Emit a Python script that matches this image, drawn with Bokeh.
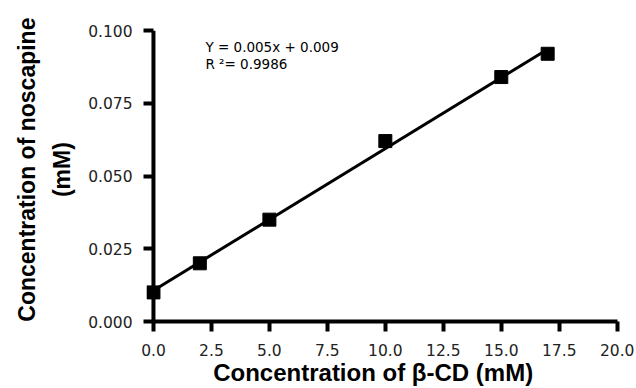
import numpy as np
from bokeh.plotting import figure
from bokeh.models import Range1d, Label, FixedTicker, NumeralTickFormatter, Span
from bokeh.embed import file_html
from bokeh.resources import INLINE

# data
beta_cd = [0, 2, 5, 10, 15, 17]
noscapine = [0.010, 0.020, 0.035, 0.062, 0.084, 0.092]
x_ticks = [0, 2.5, 5, 7.5, 10, 12.5, 15, 17.5, 20]
y_ticks = [0, 0.025, 0.05, 0.075, 0.1]
eq_line1 = "Y = 0.005x + 0.009"
eq_line2 = "R \u00b2= 0.9986"
x_title = "Concentration of \u03b2-CD (mM)"
y_title = "Concentration of noscapine\n(mM)"

p = figure(width=636, height=388, output_backend="svg", toolbar_location=None,
           x_range=Range1d(-0.3, 20.4), y_range=Range1d(0, 0.1),
           min_border_left=146, min_border_right=10, min_border_top=30, min_border_bottom=67)
p.outline_line_color = None
p.xgrid.visible = False
p.ygrid.visible = False
p.background_fill_color = "white"

# trend line (least squares through the points)
slope, intercept = np.polyfit(beta_cd, noscapine, 1)
xs = [min(beta_cd), max(beta_cd)]
p.line(xs, [slope * v + intercept for v in xs], line_color="black", line_width=3)
p.scatter(beta_cd, noscapine, marker="square", size=13, fill_color="black", line_color="black")

for ax in (p.xaxis[0], p.yaxis[0]):
    ax.axis_line_width = 4
    ax.axis_line_color = "black"
    ax.major_tick_line_width = 4
    ax.major_tick_line_color = "black"
    ax.minor_tick_line_color = None
    ax.major_label_text_font = "DejaVu Sans"
    ax.major_label_text_font_size = "15.5px"
    ax.major_label_text_color = "#222222"
    ax.axis_label_text_font = "Liberation Sans"
    ax.axis_label_text_font_style = "bold"
    ax.axis_label_text_color = "black"

xa = p.xaxis[0]
xa.ticker = FixedTicker(ticks=x_ticks)
xa.formatter = NumeralTickFormatter(format="0.0")
xa.bounds = (0, 20)
xa.major_tick_out = 10
xa.major_tick_in = 0
xa.axis_label = x_title + "\u00a0\u00a0\u00a0\u00a0"
xa.axis_label_text_font_size = "24px"
xa.major_label_standoff = 12
xa.axis_label_standoff = 0

ya = p.yaxis[0]
ya.ticker = FixedTicker(ticks=y_ticks)
ya.formatter = NumeralTickFormatter(format="0.000")
ya.axis_line_color = None
ya.major_tick_out = 3
ya.major_tick_in = 7
ya.axis_label = "\u00a0\u00a0" + y_title.replace("\n", "\n\u00a0\u00a0")
ya.axis_label_text_font_size = "23px"
ya.axis_label_text_line_height = 1.35
ya.major_label_standoff = 11
ya.axis_label_standoff = 10

# y axis rule drawn at x = 0
p.add_layout(Span(location=0, dimension="height", line_color="black", line_width=4))

for txt, yv in ((eq_line1, 0.0943), (eq_line2, 0.0886)):
    p.add_layout(Label(x=2.24, y=yv, text=txt, text_font="DejaVu Sans",
                       text_font_size="13.5px", text_color="black",
                       text_baseline="alphabetic", text_align="left"))

open("out.html", "w").write(file_html(p, INLINE))
